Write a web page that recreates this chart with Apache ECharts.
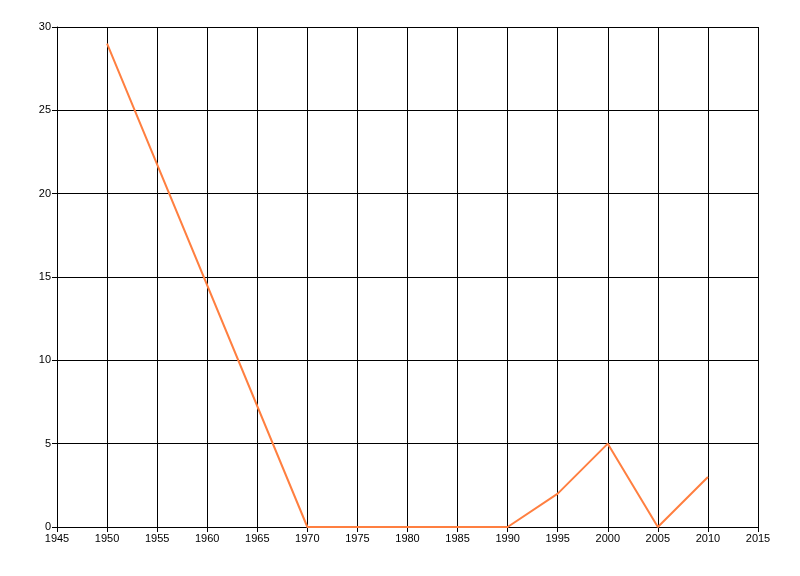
<!DOCTYPE html>
<html><head><meta charset="utf-8">
<script src="https://cdn.jsdelivr.net/npm/echarts@6/dist/echarts.min.js"></script>
<style>html,body{margin:0;padding:0;background:#fff}#c{width:800px;height:576px}</style>
</head><body><div id="c"></div>
<script>
const years = [1950, 1970, 1990, 1995, 2000, 2005, 2010];
const values = [29, 0, 0, 2, 5, 0, 3];

const chart = echarts.init(document.getElementById('c'), null, {renderer: 'canvas'});
const axisCommon = {
  axisLine: {show: true, lineStyle: {color: '#000', width: 1}},
  axisTick: {show: true, length: 5, lineStyle: {color: '#000'}},
  splitLine: {show: true, lineStyle: {color: '#000', width: 1}},
  axisLabel: {color: '#000', fontFamily: 'Liberation Sans', fontSize: 11, margin: 6, formatter: v => String(v)}
};
chart.setOption({
  animation: false,
  backgroundColor: '#fff',
  grid: {left: 57, right: 42, top: 27, bottom: 49, containLabel: false},
  xAxis: Object.assign({type: 'value', min: 1945, max: 2015, interval: 5}, axisCommon),
  yAxis: Object.assign({type: 'value', min: 0, max: 30, interval: 5}, axisCommon),
  series: [{
    type: 'line',
    data: years.map((y, i) => [y, values[i]]),
    showSymbol: false,
    lineStyle: {color: '#FF7F40', width: 2},
    itemStyle: {color: '#FF7F40'}
  }]
});
</script></body></html>
